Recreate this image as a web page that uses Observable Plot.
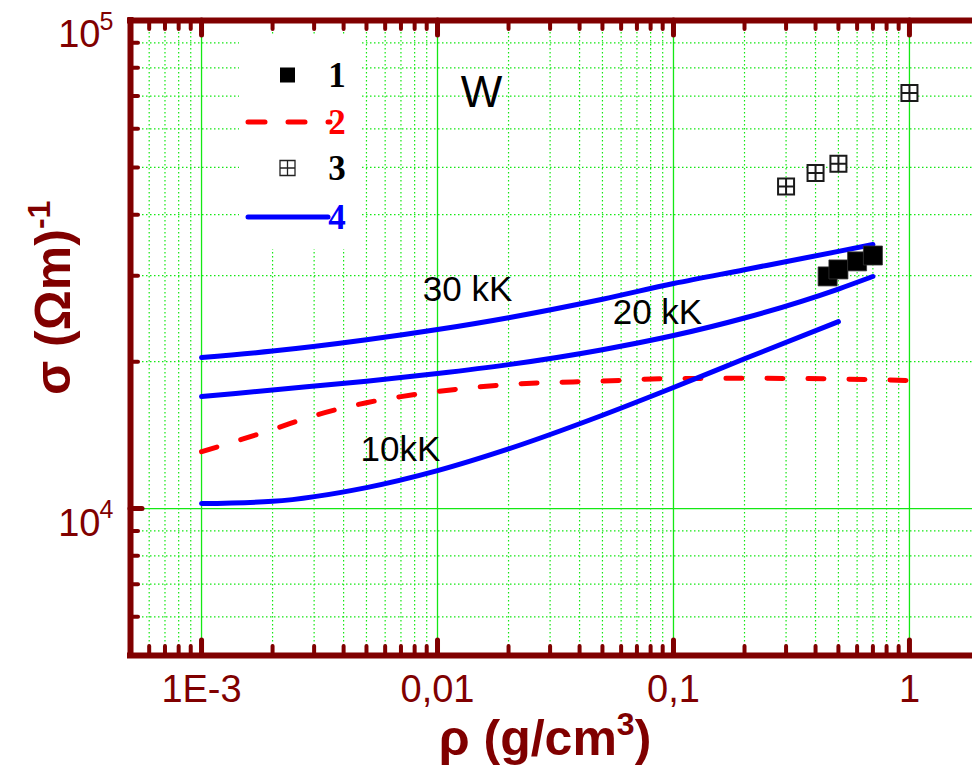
<!DOCTYPE html>
<html>
<head>
<meta charset="utf-8">
<script src="https://cdn.jsdelivr.net/npm/d3@7"></script>
<script src="https://cdn.jsdelivr.net/npm/@observablehq/plot@0.6"></script>
<style>
  html, body { margin: 0; padding: 0; background: #fff; }
  svg { display: block; }
</style>
</head>
<body>
<div id="chart"></div>
<script>
// ---------- data ----------
// curves 4 (blue): calculated conductivity at 30, 20 and 10 kK
const rhoCurves = [0.001, 0.002, 0.005, 0.01, 0.02, 0.05, 0.1, 0.2, 0.5, 0.7];
const sigma30kK = [20390, 21020, 22170, 23270, 24610, 26850, 28910, 30860, 33650, 34750];
const sigma20kK = [16960, 17500, 18240, 18910, 19720, 21160, 22620, 24570, 28170, 29890];
const rho10kK   = [0.001, 0.002, 0.005, 0.01, 0.02, 0.05, 0.1, 0.2, 0.5];
const sigma10kK = [10240, 10350, 11040, 11960, 13250, 15530, 17700, 20270, 24160];

// curve 2 (red dashed)
const rhoRed   = [0.001, 0.0015, 0.002, 0.003, 0.005, 0.007, 0.01, 0.02, 0.05, 0.1, 0.2, 0.5, 1];
const sigmaRed = [13080, 13890, 14520, 15500, 16480, 16960, 17370, 17960, 18250, 18470, 18490, 18430, 18300];

// set 1 (filled squares)
const rhoSet1   = [0.45, 0.5, 0.6, 0.7];
const sigmaSet1 = [29900, 30900, 32100, 33000];

// set 3 (crossed open squares)
const rhoSet3   = [0.3, 0.4, 0.5, 1.0];
const sigmaSet3 = [45700, 48700, 50900, 71000];

// curve annotations
const annoText  = ["30 kK", "20 kK", "10kK"];
const annoRho   = [0.0134, 0.0855, 0.00697];
const annoSigma = [28110, 25210, 13210];
const panelLabel = "W";
const panelRho = 0.01535;
const panelSigma = 71200;

// axis ticks
const xMajorTicks = [0.001, 0.01, 0.1, 1];
const xTickLabels = ["1E-3", "0,01", "0,1", "1"];
const xMinorTicks = [0.0005, 0.0006, 0.0007, 0.0008, 0.0009,
  0.002, 0.003, 0.004, 0.005, 0.006, 0.007, 0.008, 0.009,
  0.02, 0.03, 0.04, 0.05, 0.06, 0.07, 0.08, 0.09,
  0.2, 0.3, 0.4, 0.5, 0.6, 0.7, 0.8, 0.9];
const yMajorTicks = [10000, 100000];
const yTickExponents = ["4", "5"];
const yMinorTicks = [6000, 7000, 8000, 9000, 20000, 30000, 40000, 50000, 60000, 70000, 80000, 90000];

// ---------- styling ----------
const GREEN = "#14e814";
const AXIS = "#800000";
const SANS = "'Liberation Sans', Arial, sans-serif";
const SERIF = "'Liberation Serif', 'Times New Roman', serif";

const W = 972, H = 773;
const mL = 130, mR = 0, mT = 20, mB = 118;
const plotW = W - mL - mR, plotH = H - mT - mB;

const curves = [
  ...rhoCurves.map((r, i) => ({rho: r, sigma: sigma30kK[i], T: "30"})),
  ...rhoCurves.map((r, i) => ({rho: r, sigma: sigma20kK[i], T: "20"})),
  ...rho10kK.map((r, i) => ({rho: r, sigma: sigma10kK[i], T: "10"}))
];
const red = rhoRed.map((r, i) => ({rho: r, sigma: sigmaRed[i]}));
const set1 = rhoSet1.map((r, i) => ({rho: r, sigma: sigmaSet1[i]}));
const set3 = rhoSet3.map((r, i) => ({rho: r, sigma: sigmaSet3[i]}));
const annos = annoText.map((t, i) => ({text: t, rho: annoRho[i], sigma: annoSigma[i]}));
const xLabels = xMajorTicks.map((v, i) => ({v, label: xTickLabels[i]}));
const yLabels = yMajorTicks.map((v, i) => ({v, exp: yTickExponents[i]}));

const squareSym = {
  draw(ctx, size) { const r = Math.sqrt(size / Math.PI); ctx.rect(-r, -r, 2 * r, 2 * r); }
};
const crossSquareSym = {
  draw(ctx, size) {
    const r = Math.sqrt(size / Math.PI);
    ctx.rect(-r, -r, 2 * r, 2 * r);
    ctx.moveTo(-r, 0); ctx.lineTo(r, 0);
    ctx.moveTo(0, -r); ctx.lineTo(0, r);
  }
};

const plot = Plot.plot({
  width: W, height: H,
  marginLeft: mL, marginRight: mR, marginTop: mT, marginBottom: mB,
  x: {type: "log", domain: [0.0005, 1.85], axis: null},
  y: {type: "log", domain: [5000, 100000], axis: null},
  style: {background: "white", overflow: "visible", fontFamily: SANS},
  marks: [
    // grid
    Plot.ruleX(xMinorTicks, {stroke: GREEN, strokeWidth: 1.2, strokeDasharray: "1.5,2.5"}),
    Plot.ruleY(yMinorTicks, {stroke: GREEN, strokeWidth: 1.2, strokeDasharray: "1.5,2.5"}),
    Plot.ruleX(xMajorTicks, {stroke: GREEN, strokeWidth: 1.3}),
    Plot.ruleY(yMajorTicks, {stroke: GREEN, strokeWidth: 1.3}),

    // curve 2 (red dashed)
    Plot.line(red, {x: "rho", y: "sigma", stroke: "#ff0000", strokeWidth: 5,
      strokeDasharray: "16,25", strokeLinecap: "round", curve: "monotone-x"}),
    // curves 4 (blue)
    Plot.line(curves, {x: "rho", y: "sigma", z: "T", stroke: "#0000ff", strokeWidth: 5,
      curve: "monotone-x"}),

    // set 3
    Plot.dot(set3, {x: "rho", y: "sigma", symbol: crossSquareSym, r: 8,
      fill: "white", stroke: "#1a1a1a", strokeWidth: 2}),
    // set 1
    Plot.dot(set1, {x: "rho", y: "sigma", symbol: squareSym, r: 9.5,
      fill: "#000", stroke: "#333", strokeWidth: 0.8}),

    // annotations
    Plot.text(annos, {x: "rho", y: "sigma", text: "text", fontSize: 35, fill: "#000",
      fontFamily: SANS, textAnchor: "middle", lineAnchor: "middle"}),
    Plot.text([panelLabel], {x: () => panelRho, y: () => panelSigma, text: d => d,
      fontSize: 44, fill: "#000", fontFamily: SANS, textAnchor: "middle", lineAnchor: "middle"}),

    // frame (left, top, bottom)
    Plot.ruleX([0.0005], {stroke: AXIS, strokeWidth: 6, strokeLinecap: "square"}),
    Plot.ruleY([100000, 5000], {stroke: AXIS, strokeWidth: 6, strokeLinecap: "square"}),

    // inward ticks: bottom
    Plot.tickX(xMinorTicks, {x: d => d, stroke: AXIS, strokeWidth: 4, strokeLinecap: "round", insetTop: plotH - 9}),
    Plot.tickX(xMajorTicks, {x: d => d, stroke: AXIS, strokeWidth: 5, strokeLinecap: "round", insetTop: plotH - 15}),
    // top
    Plot.tickX(xMinorTicks, {x: d => d, stroke: AXIS, strokeWidth: 4, strokeLinecap: "round", insetBottom: plotH - 9}),
    Plot.tickX(xMajorTicks, {x: d => d, stroke: AXIS, strokeWidth: 5, strokeLinecap: "round", insetBottom: plotH - 15}),
    // left
    Plot.tickY(yMinorTicks, {y: d => d, stroke: AXIS, strokeWidth: 4, strokeLinecap: "round", insetRight: plotW - 8}),
    Plot.tickY(yMajorTicks, {y: d => d, stroke: AXIS, strokeWidth: 5, strokeLinecap: "round", insetRight: plotW - 12}),

    // tick labels
    Plot.text(xLabels, {x: "v", text: "label", frameAnchor: "bottom", dy: 20, lineAnchor: "top",
      fontSize: 38, fill: AXIS, fontFamily: SANS}),
    Plot.text(yLabels, {y: "v", text: () => "10", frameAnchor: "left", dx: -30, textAnchor: "end",
      lineAnchor: "top", fontSize: 38, fill: AXIS, fontFamily: SANS}),
    Plot.text(yLabels, {y: "v", text: "exp", frameAnchor: "left", dx: -31, dy: -8, textAnchor: "start",
      lineAnchor: "top", fontSize: 25, fill: AXIS, fontFamily: SANS})
  ]
});

document.getElementById("chart").appendChild(plot);

// ---------- legend & axis titles ----------
const svg = d3.select(plot);
const lg = svg.append("g");
lg.append("rect").attr("x", 239).attr("y", 36).attr("width", 123).attr("height", 213).attr("fill", "white");

const legendRows = [
  {label: "1", color: "#000", kind: "square", y: 75},
  {label: "2", color: "#ff0000", kind: "dash", y: 122},
  {label: "3", color: "#000", kind: "cross", y: 168},
  {label: "4", color: "#0000ff", kind: "line", y: 217}
];
legendRows.forEach(row => {
  if (row.kind === "square") {
    lg.append("rect").attr("x", 280).attr("y", row.y - 7.5).attr("width", 15).attr("height", 15).attr("fill", "#000");
  } else if (row.kind === "cross") {
    const cx = 287.5, r = 7.5;
    lg.append("path")
      .attr("d", `M${cx - r},${row.y - r}h${2 * r}v${2 * r}h${-2 * r}Z M${cx - r},${row.y}h${2 * r} M${cx},${row.y - r}v${2 * r}`)
      .attr("fill", "white").attr("stroke", "#222").attr("stroke-width", 1.3);
  } else if (row.kind === "dash") {
    lg.append("line").attr("x1", 248).attr("x2", 330).attr("y1", row.y).attr("y2", row.y)
      .attr("stroke", row.color).attr("stroke-width", 5).attr("stroke-linecap", "round")
      .attr("stroke-dasharray", "17,23");
  } else {
    lg.append("line").attr("x1", 248).attr("x2", 328).attr("y1", row.y).attr("y2", row.y)
      .attr("stroke", row.color).attr("stroke-width", 5).attr("stroke-linecap", "round");
  }
  lg.append("text").attr("x", 337).attr("y", row.y + 12)
    .attr("font-family", SERIF).attr("font-weight", "bold").attr("font-size", 35)
    .attr("fill", row.color).text(row.label);
});

// y title
const yt = svg.append("text")
  .attr("transform", "translate(70,395) rotate(-90)")
  .attr("font-family", SANS).attr("font-weight", "bold").attr("font-size", 50)
  .attr("fill", AXIS).attr("text-anchor", "start");
yt.append("tspan").text("σ (Ωm)");
yt.append("tspan").attr("dy", -20).attr("font-size", 32).text("-1");

// x title
const xt = svg.append("text")
  .attr("x", 545).attr("y", 755)
  .attr("font-family", SANS).attr("font-weight", "bold").attr("font-size", 50)
  .attr("fill", AXIS).attr("text-anchor", "middle");
xt.append("tspan").text("ρ (g/cm");
xt.append("tspan").attr("dy", -20).attr("font-size", 32).text("3");
xt.append("tspan").attr("dy", 20).text(")");
</script>
</body>
</html>
